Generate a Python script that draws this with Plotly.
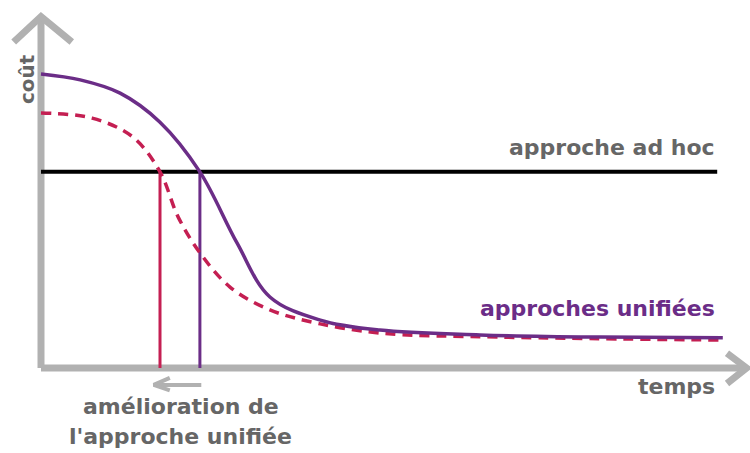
import plotly.graph_objects as go

# Cost over time for the two families of approaches
t_unified = [0, 5.6, 11.3, 17.0, 22.7, 28.0, 32.7, 39.9, 48.4, 62.7, 79.9, 97.4]
cost_unified = [79.9, 78.3, 74.7, 66.8, 53.3, 34.0, 19.3, 13.0, 10.3, 9.0, 8.4, 8.2]

t_improved = [0, 7.3, 13.1, 17.0, 19.6, 22.7, 27.0, 32.7, 39.4, 48.4, 65.6, 97.4]
cost_improved = [69.3, 67.9, 62.8, 53.3, 41.0, 31.3, 22.0, 15.8, 12.2, 9.5, 8.4, 7.6]

adhoc_cost = 53.3
adhoc_span = [0, 96.6]

# Break-even times where each unified curve meets the ad hoc cost
t_break_improved = 17.0
t_break_unified = 22.7

PURPLE = "#6b2d87"
CRIMSON = "#c41f52"
AXIS_GREY = "#b1b1b1"
TEXT_GREY = "#666666"
FONT = "DejaVu Sans"

fig = go.Figure()

def line(xs, ys, color, width, dash="solid", shape="linear"):
    fig.add_trace(go.Scatter(x=xs, y=ys, mode="lines",
                             line=dict(color=color, width=width, dash=dash, shape=shape),
                             hoverinfo="skip", showlegend=False))

# hand-drawn style axes with open arrowheads
line([0, 0], [0, 95.5], AXIS_GREY, 7)
line([-3.9, 0, 4.4], [88.6, 95.5, 88.6], AXIS_GREY, 7)
line([0, 100.8], [0, 0], AXIS_GREY, 7)
line([98.0, 100.8, 98.0], [4.0, 0, -4.2], AXIS_GREY, 7)

# ad hoc cost level
line(adhoc_span, [adhoc_cost, adhoc_cost], "#000000", 4)

# break-even markers
line([t_break_improved, t_break_improved], [0, adhoc_cost], CRIMSON, 3)
line([t_break_unified, t_break_unified], [0, adhoc_cost], PURPLE, 3)

# cost curves
line(t_improved, cost_improved, CRIMSON, 3.5, dash="10px,7px", shape="spline")
line(t_unified, cost_unified, PURPLE, 3.5, shape="spline")

# arrow showing the shift of the break-even point
line([t_break_unified + 0.2, t_break_improved - 0.9], [-4.6, -4.6], AXIS_GREY, 4)
line([18.4, t_break_improved - 0.9, 18.4], [-2.7, -4.6, -6.1], AXIS_GREY, 4)

def label(text, x, y, color, size, xanchor="center", angle=0):
    fig.add_annotation(x=x, y=y, xref="x", yref="y", text=text, showarrow=False,
                       xanchor=xanchor, yanchor="middle", textangle=angle,
                       font=dict(family=FONT, size=size, color=color, weight="bold"))

label("coût", -2.0, 78.5, TEXT_GREY, 20, angle=-90)
label("approche ad hoc", 96.6, 60.0, TEXT_GREY, 22, xanchor="right")
label("approches unifiées", 96.6, 16.3, PURPLE, 22, xanchor="right")
label("temps", 96.6, -4.9, TEXT_GREY, 22, xanchor="right")
label("amélioration de", 20.0, -10.4, TEXT_GREY, 22)
label("l'approche unifiée", 19.9, -18.6, TEXT_GREY, 22)

fig.update_layout(
    width=750, height=453,
    margin=dict(l=0, r=0, t=0, b=0),
    paper_bgcolor="white", plot_bgcolor="white",
    xaxis=dict(range=[-41 / 7, 709 / 7], visible=False, fixedrange=True),
    yaxis=dict(range=[-85 / 3.68, 100], visible=False, fixedrange=True),
)

fig.write_html("out.html")
